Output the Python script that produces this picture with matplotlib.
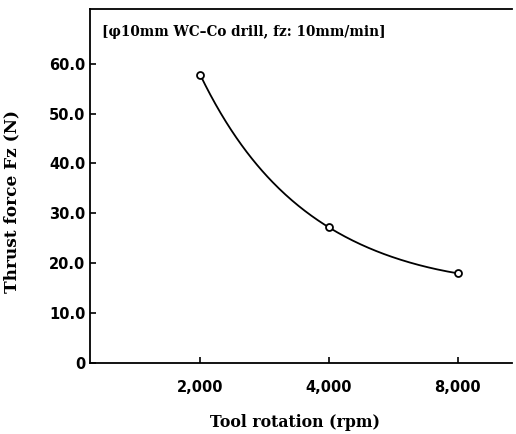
import numpy as np
import matplotlib.pyplot as plt

# tool rotation (rpm) and measured thrust force Fz (N)
rpm_labels = ['2,000', '4,000', '8,000']
thrust = [57.8, 27.2, 18.0]
pos = [1, 2, 3]

fig = plt.figure(figsize=(5.16, 4.34), dpi=100)
ax = fig.add_axes([0.174, 0.163, 0.818, 0.816])

# smooth decaying curve through the three points (quadratic in log space)
c = np.polyfit(pos, np.log(thrust), 2)
xs = np.linspace(pos[0], pos[-1], 200)
ax.plot(xs, np.exp(np.polyval(c, xs)), color='black', lw=1.3)
ax.plot(pos, thrust, 'o', mfc='white', mec='black', ms=5, mew=1.3)

ax.set_xlim(0.144, 3.42)
ax.set_ylim(0, 70.9)
ax.set_xticks(pos)
ax.set_xticklabels(rpm_labels)
ax.set_yticks([0, 10, 20, 30, 40, 50, 60])
ax.set_yticklabels(['0', '10.0', '20.0', '30.0', '40.0', '50.0', '60.0'])

for lab in ax.get_xticklabels() + ax.get_yticklabels():
    lab.set_fontfamily('DejaVu Sans')
    lab.set_fontweight('bold')
    lab.set_fontsize(10.5)

ax.tick_params(direction='in', length=4, width=1.2, color='black')
ax.tick_params(axis='x', pad=12)
ax.tick_params(axis='y', pad=3)
ax.spines['right'].set_visible(False)
for s in ['left', 'bottom', 'top']:
    ax.spines[s].set_linewidth(1.3)

ax.set_xlabel('Tool rotation (rpm)', fontfamily='DejaVu Serif', fontweight='bold',
              fontsize=11.3, va='center')
ax.set_ylabel('Thrust force Fz (N)', fontfamily='DejaVu Serif', fontweight='bold',
              fontsize=12.2, va='center')
ax.xaxis.set_label_coords(0.486, -0.168)
ax.yaxis.set_label_coords(-0.185, 0.458)

ax.text(0.03, 0.955, '[\u03c610mm WC\u2013Co drill, fz: 10mm/min]', transform=ax.transAxes,
        fontfamily='DejaVu Serif', fontweight='bold', fontsize=9.8, va='top', ha='left')

fig.savefig('out.png', dpi=100)
